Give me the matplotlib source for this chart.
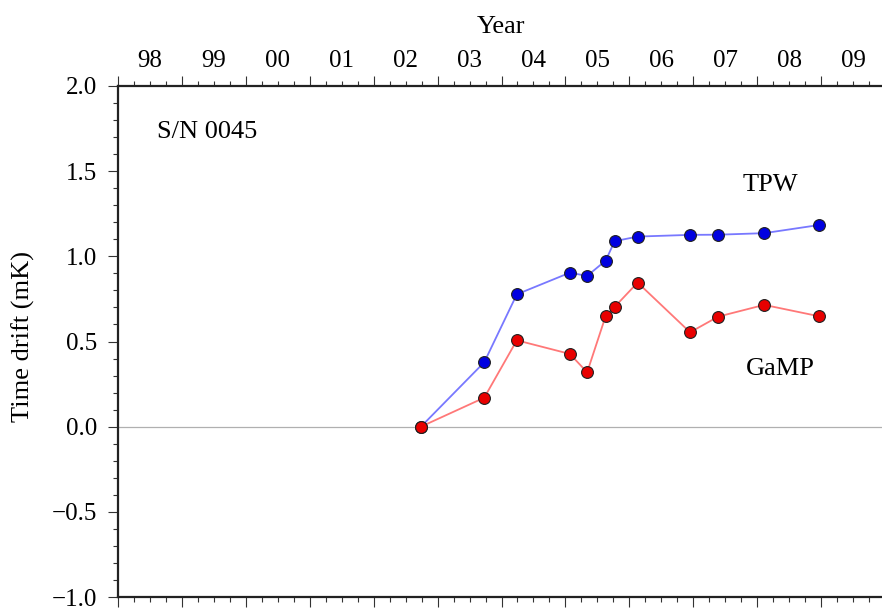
import matplotlib
matplotlib.use("Agg")
import matplotlib.pyplot as plt
from matplotlib.ticker import MultipleLocator, FixedLocator

plt.rcParams['font.family'] = ['Liberation Serif', 'DejaVu Serif']

# Data (decimal year, drift in mK)
years = [2002.74, 2003.73, 2004.24, 2005.07, 2005.34, 2005.63, 2005.77,
         2006.13, 2006.95, 2007.39, 2008.11, 2008.97]
tpw = [0.0, 0.378, 0.777, 0.904, 0.885, 0.975, 1.089,
       1.116, 1.126, 1.127, 1.136, 1.184]
gamp = [0.0, 0.170, 0.507, 0.427, 0.319, 0.650, 0.703,
        0.846, 0.554, 0.646, 0.715, 0.648]
year_ticks = list(range(1998, 2011))
year_labels = ['98', '99', '00', '01', '02', '03', '04', '05', '06', '07', '08', '09']
y_ticks = [-1.0, -0.5, 0.0, 0.5, 1.0, 1.5, 2.0]

W, H = 882, 608
fig = plt.figure(figsize=(W / 100, H / 100), dpi=100)
ax = fig.add_axes([118 / W, 11 / H, (885 - 118) / W, (597 - 86) / H])

ax.axhline(0, color='#b0b0b0', lw=0.9, zorder=1)

ax.plot(years, tpw, '-', color='#7878ff', lw=1.3, zorder=2)
ax.plot(years, gamp, '-', color='#ff7878', lw=1.3, zorder=2)
ax.plot(years, tpw, 'o', ms=8.5, mfc='#0000e0', mec='#202020', mew=0.8, zorder=3)
ax.plot(years, gamp, 'o', ms=8.5, mfc='#e80000', mec='#202020', mew=0.8, zorder=3)

ax.set_xlim(1998, 2010)
ax.set_ylim(-1.0, 2.0)

ax.xaxis.set_major_locator(FixedLocator(year_ticks))
ax.xaxis.set_minor_locator(MultipleLocator(0.25))
ax.yaxis.set_major_locator(FixedLocator(y_ticks))
ax.yaxis.set_minor_locator(MultipleLocator(0.1))

ax.tick_params(axis='x', which='both', top=True, bottom=True, direction='out',
               labelbottom=False, labeltop=False)
ax.tick_params(axis='both', which='major', length=7.5, width=0.8, color='#333333')
ax.tick_params(axis='both', which='minor', length=3.8, width=0.8, color='#333333')
ax.tick_params(axis='y', which='major', labelsize=18, pad=7.5)
ax.set_yticklabels([f'{v:.1f}'.replace('-', '\u2212') for v in y_ticks])

for side in ['left', 'top', 'bottom', 'right']:
    ax.spines[side].set_linewidth(1.6)
    ax.spines[side].set_color('#222222')

sec = ax.secondary_xaxis('top')
sec.set_xticks([y + 0.5 for y in year_ticks[:-1]])
sec.set_xticklabels(year_labels)
sec.tick_params(length=0, pad=10, labelsize=18)
sec.spines['top'].set_visible(False)
sec.set_xlabel('Year', fontsize=19, labelpad=12)

ax.set_ylabel('Time drift (mK)', fontsize=19)
ax.yaxis.set_label_coords(-0.108, 0.51)

ax.text(1998.61, 1.73, 'S/N 0045', fontsize=19, ha='left', va='center')
ax.text(2008.2, 1.42, 'TPW', fontsize=19, ha='center', va='center')
ax.text(2008.36, 0.34, 'GaMP', fontsize=19, ha='center', va='center')

fig.savefig('out.png', dpi=100)
